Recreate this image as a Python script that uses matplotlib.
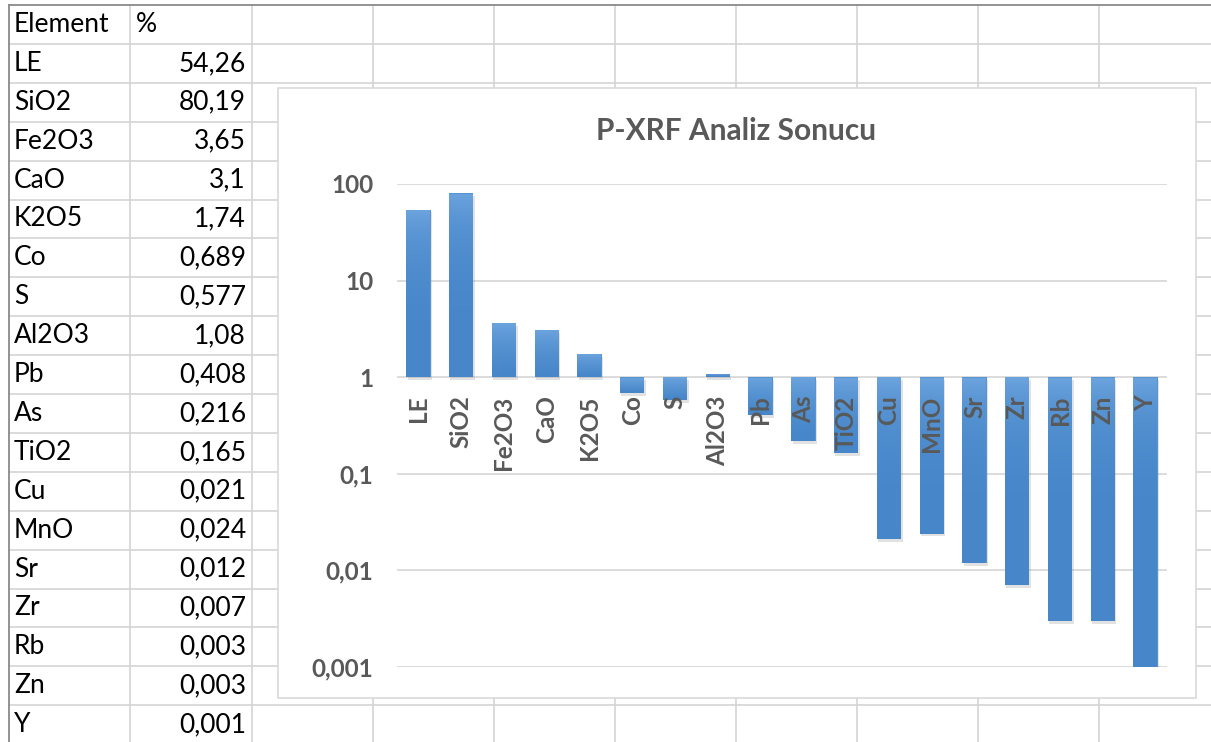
import matplotlib.pyplot as plt
import matplotlib.patheffects as pe
from matplotlib.patches import Rectangle
from matplotlib.colors import LinearSegmentedColormap
import numpy as np

plt.rcParams['font.family'] = ['Lato', 'DejaVu Sans']

# P-XRF results (%)
elements = ['LE', 'SiO2', 'Fe2O3', 'CaO', 'K2O5', 'Co', 'S', 'Al2O3', 'Pb', 'As',
            'TiO2', 'Cu', 'MnO', 'Sr', 'Zr', 'Rb', 'Zn', 'Y']
percent = [54.26, 80.19, 3.65, 3.1, 1.74, 0.689, 0.577, 1.08, 0.408, 0.216,
           0.165, 0.021, 0.024, 0.012, 0.007, 0.003, 0.003, 0.001]
header = ['Element', '%']
yticks = [100, 10, 1, 0.1, 0.01, 0.001]
ytick_labels = ['100', '10', '1', '0,1', '0,01', '0,001']
title = 'P-XRF Analiz Sonucu'

W, H = 1211, 742
fig = plt.figure(figsize=(W / 100, H / 100), dpi=100)

# worksheet behind the chart, in pixel units
sheet = fig.add_axes([0, 0, 1, 1])
sheet.set_xlim(0, W)
sheet.set_ylim(H, 0)
sheet.axis('off')

col_x = [9, 130, 252, 373, 494, 615, 736, 857, 978, 1099]
row_y = [5 + 38.9 * i for i in range(20)]
for x in col_x[1:]:
    sheet.plot([x, x], [5, H], color='#d4d4d4', lw=1.2, zorder=1)
for y in row_y[1:]:
    sheet.plot([9, W], [y, y], color='#d4d4d4', lw=1.2, zorder=1)
sheet.plot([9, 9], [5, H], color='#8a8a8a', lw=1.3, zorder=1)
sheet.plot([9, W], [5, 5], color='#8a8a8a', lw=1.3, zorder=1)

cell_font = dict(fontsize=19, color='#000000', va='center')
sheet.text(14, (row_y[0] + row_y[1]) / 2, header[0], ha='left', **cell_font)
sheet.text(136, (row_y[0] + row_y[1]) / 2, header[1], ha='left', **cell_font)
for i, (name, val) in enumerate(zip(elements, percent)):
    yc = (row_y[i + 1] + row_y[i + 2]) / 2
    sheet.text(14, yc, name, ha='left', **cell_font)
    sheet.text(246, yc, str(val).replace('.', ','), ha='right', **cell_font)

# chart area
sheet.add_patch(Rectangle((278, 88), 918, 610, facecolor='white',
                          edgecolor='#d9d9d9', lw=1.2, zorder=5))
sheet.text(736, 131, title, ha='center', va='center', fontsize=21.5,
           fontweight='bold', color='#595959', zorder=6)

ax = fig.add_axes([397 / W, 1 - 667 / H, (1167 - 397) / W, (667 - 184) / H])
ax.set_zorder(10)
ax.patch.set_alpha(0)
ax.set_yscale('log')

ax.set_yticks(yticks)
ax.set_yticklabels(ytick_labels, fontsize=17.5, fontweight='bold', color='#595959')
ax.minorticks_off()
ax.tick_params(axis='y', length=0, pad=17)
ax.set_xticks([])
ax.yaxis.grid(True, color='#d9d9d9', lw=1.3)
ax.set_axisbelow(True)
for s in ax.spines.values():
    s.set_visible(False)

# bars start from 1 on the log axis
x = np.arange(len(elements))
heights = [v - 1 for v in percent]
bars = ax.bar(x, heights, bottom=1, width=0.57, color='#5595d4', zorder=2,
              path_effects=[pe.SimplePatchShadow(offset=(1, -2), shadow_rgbFace='#8c8c8c', alpha=0.25),
                            pe.Normal()])

# vertical gradient inside each bar, lighter at the top
cmap = LinearSegmentedColormap.from_list('bar', ['#4686c9', '#6ca4de'])
grad = np.linspace(0, 1, 64).reshape(-1, 1)
for b, v in zip(bars, percent):
    lo, hi = min(1, v), max(1, v)
    im = ax.imshow(grad, cmap=cmap, aspect='auto', origin='lower', zorder=3,
                   extent=[b.get_x(), b.get_x() + b.get_width(), lo, hi],
                   interpolation='bilinear')
    im.set_clip_path(b)
ax.set_xlim(-0.5, len(elements) - 0.5)
ax.set_ylim(0.001, 100)

for i, name in enumerate(elements):
    ax.annotate(name, (i, 1), xytext=(0, -13), textcoords='offset points',
                rotation=90, ha='center', va='top', fontsize=17.5,
                fontweight='bold', color='#595959', zorder=4)

fig.savefig('out.png', dpi=100)
